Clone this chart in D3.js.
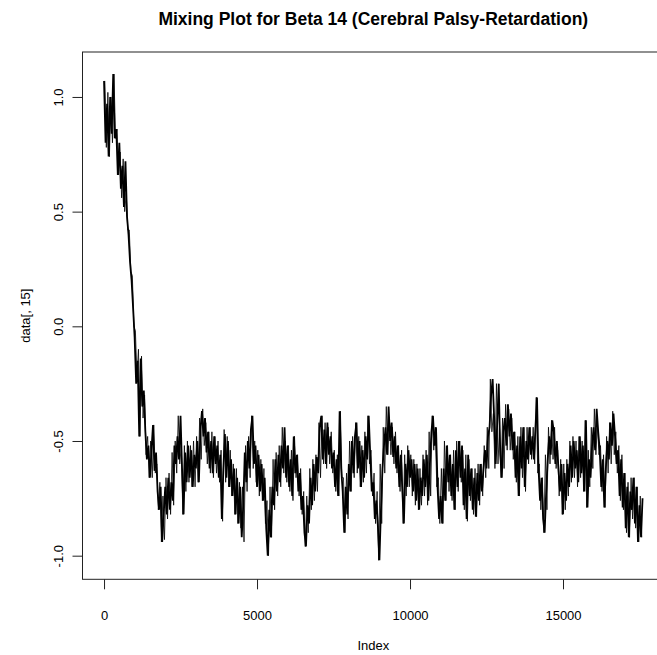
<!DOCTYPE html>
<html><head><meta charset="utf-8">
<script src="https://cdn.jsdelivr.net/npm/d3@7"></script>
<style>
body{margin:0;background:#fff}
svg{display:block}
text{font-family:"Liberation Sans",Arial,sans-serif;fill:#000}
</style>
</head><body>
<svg id="chart" width="657" height="655"></svg>
<script>
const titleText = "Mixing Plot for Beta 14 (Cerebral Palsy-Retardation)";
const xLabelText = "Index";
const yLabelText = "data[, 15]";
const xTickValues = [0, 5000, 10000, 15000];
const xTickLabels = ["0", "5000", "10000", "15000"];
const yTickValues = [-1.0, -0.5, 0.0, 0.5, 1.0];
const yTickLabels = ["-1.0", "-0.5", "0.0", "0.5", "1.0"];
const lastIteration = 17600; // last index of the chain

// core of the trace, one value every 50 iterations (0 .. 17600)
const coreStep = 50;
const traceCore = [
  1.07, 0.80, 0.97, 0.74, 1.00, 0.84, 1.10, 0.82, 0.86, 0.66, 0.80, 0.60, 0.70, 0.52, 0.72, 0.48, 0.40, 0.28, 0.20, 0.08,
  -0.05, -0.25, -0.15, -0.48, -0.14, -0.35, -0.28, -0.46, -0.58, -0.52, -0.66, -0.54, -0.43, -0.63, -0.55, -0.72, -0.80, -0.70, -0.94, -0.82,
  -0.70, -0.82, -0.66, -0.80, -0.68, -0.76, -0.52, -0.60, -0.48, -0.58, -0.39, -0.62, -0.82, -0.55, -0.68, -0.52, -0.66, -0.54, -0.70, -0.56,
  -0.62, -0.50, -0.68, -0.45, -0.37, -0.48, -0.40, -0.55, -0.46, -0.62, -0.50, -0.64, -0.48, -0.60, -0.52, -0.66, -0.56, -0.84, -0.62, -0.47,
  -0.66, -0.50, -0.70, -0.58, -0.74, -0.62, -0.82, -0.66, -0.86, -0.70, -0.92, -0.78, -0.55, -0.68, -0.50, -0.62, -0.45, -0.39, -0.60, -0.52,
  -0.70, -0.56, -0.72, -0.60, -0.76, -0.66, -0.88, -1.00, -0.80, -0.92, -0.70, -0.78, -0.58, -0.72, -0.56, -0.68, -0.52, -0.62, -0.44, -0.66,
  -0.52, -0.70, -0.58, -0.74, -0.48, -0.64, -0.56, -0.72, -0.64, -0.80, -0.74, -0.90, -0.96, -0.78, -0.86, -0.66, -0.78, -0.60, -0.72, -0.57,
  -0.64, -0.44, -0.39, -0.58, -0.45, -0.60, -0.42, -0.56, -0.48, -0.62, -0.55, -0.70, -0.58, -0.74, -0.37, -0.62, -0.72, -0.90, -0.70, -0.82,
  -0.60, -0.72, -0.50, -0.64, -0.48, -0.42, -0.62, -0.50, -0.70, -0.54, -0.66, -0.48, -0.58, -0.39, -0.56, -0.72, -0.68, -0.84, -0.76, -0.87,
  -1.02, -0.80, -0.62, -0.52, -0.44, -0.56, -0.35, -0.50, -0.42, -0.57, -0.48, -0.62, -0.52, -0.70, -0.56, -0.72, -0.86, -0.60, -0.70, -0.54,
  -0.66, -0.58, -0.72, -0.60, -0.76, -0.62, -0.80, -0.66, -0.74, -0.58, -0.70, -0.56, -0.76, -0.60, -0.46, -0.39, -0.52, -0.44, -0.70, -0.84,
  -0.74, -0.86, -0.62, -0.76, -0.52, -0.68, -0.56, -0.74, -0.60, -0.80, -0.54, -0.70, -0.50, -0.66, -0.52, -0.78, -0.62, -0.84, -0.56, -0.74,
  -0.62, -0.80, -0.66, -0.83, -0.64, -0.76, -0.60, -0.72, -0.62, -0.54, -0.62, -0.48, -0.44, -0.30, -0.23, -0.40, -0.60, -0.42, -0.25, -0.56,
  -0.66, -0.46, -0.40, -0.52, -0.34, -0.48, -0.38, -0.54, -0.46, -0.66, -0.52, -0.74, -0.48, -0.62, -0.44, -0.70, -0.50, -0.58, -0.44, -0.56,
  -0.48, -0.58, -0.44, -0.31, -0.62, -0.76, -0.66, -0.84, -0.90, -0.72, -0.58, -0.48, -0.56, -0.41, -0.46, -0.60, -0.50, -0.62, -0.72, -0.60,
  -0.82, -0.64, -0.76, -0.60, -0.70, -0.52, -0.66, -0.50, -0.62, -0.54, -0.68, -0.48, -0.64, -0.52, -0.72, -0.41, -0.79, -0.58, -0.66, -0.52,
  -0.44, -0.54, -0.36, -0.46, -0.54, -0.70, -0.58, -0.79, -0.62, -0.50, -0.58, -0.42, -0.52, -0.38, -0.48, -0.60, -0.54, -0.74, -0.58, -0.79,
  -0.64, -0.88, -0.70, -0.92, -0.72, -0.80, -0.66, -0.86, -0.70, -0.94, -0.78, -0.92, -0.75
];

// local maximum and minimum (spikes), per 100-iteration window
const windowSize = 100;
const traceHigh = [
  1.07, 1.02, 1.00, 1.10, 0.86, 0.76, 0.73, 0.58, 0.42, 0.22,
  -0.02, -0.10, -0.13, -0.30, -0.48, -0.50, -0.43, -0.60, -0.68, -0.74,
  -0.66, -0.64, -0.55, -0.50, -0.39, -0.52, -0.52, -0.50, -0.52, -0.50,
  -0.48, -0.40, -0.36, -0.42, -0.46, -0.46, -0.48, -0.50, -0.54, -0.45,
  -0.48, -0.54, -0.60, -0.62, -0.68, -0.70, -0.52, -0.48, -0.39, -0.50,
  -0.54, -0.58, -0.62, -0.76, -0.70, -0.58, -0.55, -0.52, -0.44, -0.50,
  -0.52, -0.54, -0.48, -0.56, -0.62, -0.72, -0.74, -0.62, -0.58, -0.56,
  -0.42, -0.39, -0.42, -0.44, -0.46, -0.54, -0.56, -0.37, -0.66, -0.64,
  -0.50, -0.48, -0.42, -0.48, -0.52, -0.46, -0.39, -0.54, -0.64, -0.72,
  -0.60, -0.44, -0.35, -0.40, -0.44, -0.46, -0.52, -0.54, -0.56, -0.52,
  -0.56, -0.58, -0.60, -0.62, -0.56, -0.54, -0.46, -0.39, -0.44, -0.66,
  -0.62, -0.50, -0.52, -0.56, -0.54, -0.50, -0.50, -0.54, -0.56, -0.58,
  -0.62, -0.62, -0.60, -0.60, -0.52, -0.44, -0.23, -0.38, -0.25, -0.44,
  -0.40, -0.34, -0.36, -0.40, -0.46, -0.48, -0.44, -0.44, -0.44, -0.44,
  -0.44, -0.31, -0.60, -0.66, -0.56, -0.44, -0.41, -0.44, -0.54, -0.58,
  -0.60, -0.58, -0.50, -0.48, -0.50, -0.48, -0.50, -0.41, -0.54, -0.44,
  -0.36, -0.42, -0.52, -0.56, -0.48, -0.42, -0.37, -0.46, -0.52, -0.56,
  -0.64, -0.68, -0.66, -0.66, -0.70, -0.74
];
const traceLow = [
  0.78, 0.74, 0.80, 0.82, 0.66, 0.56, 0.50, 0.42, 0.24, 0.00,
  -0.22, -0.48, -0.40, -0.56, -0.66, -0.66, -0.64, -0.80, -0.94, -0.93,
  -0.84, -0.82, -0.78, -0.64, -0.60, -0.82, -0.72, -0.68, -0.70, -0.70,
  -0.68, -0.58, -0.52, -0.60, -0.64, -0.66, -0.64, -0.68, -0.85, -0.68,
  -0.70, -0.74, -0.82, -0.86, -0.88, -0.94, -0.72, -0.66, -0.62, -0.68,
  -0.74, -0.76, -0.86, -1.00, -0.92, -0.80, -0.74, -0.70, -0.64, -0.68,
  -0.72, -0.76, -0.66, -0.74, -0.82, -0.96, -0.90, -0.80, -0.76, -0.72,
  -0.66, -0.60, -0.62, -0.60, -0.64, -0.72, -0.74, -0.66, -0.90, -0.84,
  -0.72, -0.66, -0.64, -0.70, -0.68, -0.64, -0.60, -0.74, -0.86, -1.02,
  -0.86, -0.64, -0.56, -0.56, -0.60, -0.64, -0.72, -0.86, -0.74, -0.70,
  -0.74, -0.78, -0.80, -0.78, -0.74, -0.78, -0.74, -0.54, -0.70, -0.86,
  -0.86, -0.76, -0.72, -0.76, -0.80, -0.72, -0.68, -0.80, -0.85, -0.76,
  -0.82, -0.83, -0.78, -0.74, -0.66, -0.62, -0.46, -0.62, -0.60, -0.66,
  -0.62, -0.54, -0.54, -0.58, -0.68, -0.74, -0.66, -0.72, -0.60, -0.58,
  -0.60, -0.64, -0.80, -0.90, -0.80, -0.60, -0.58, -0.62, -0.74, -0.82,
  -0.80, -0.74, -0.68, -0.66, -0.70, -0.66, -0.72, -0.79, -0.70, -0.62,
  -0.56, -0.56, -0.72, -0.79, -0.64, -0.60, -0.56, -0.64, -0.76, -0.80,
  -0.90, -0.92, -0.84, -0.88, -0.94, -0.92
];

const svg = d3.select("#chart");
const box = {left: 82.5, top: 52, right: 664.1, bottom: 579.3};

const xPad = 0.04 * lastIteration;
const x = d3.scaleLinear().domain([-xPad, lastIteration + xPad]).range([box.left, box.right]);
const y = d3.scaleLinear().domain([-1.103, 1.196]).range([box.bottom, box.top]);

// spikes: each window goes from its high to its low reading
const spikePoints = [];
traceHigh.forEach((hi, k) => {
  spikePoints.push([k * windowSize + windowSize * 0.25, hi]);
  spikePoints.push([k * windowSize + windowSize * 0.75, traceLow[k]]);
});
const corePoints = traceCore.map((v, i) => [i * coreStep, v]);

const line = d3.line().x(d => x(d[0])).y(d => y(d[1]));
svg.append("path")
  .datum(spikePoints)
  .attr("d", line)
  .attr("fill", "none")
  .attr("stroke", "#000")
  .attr("stroke-width", 0.8);
svg.append("path")
  .datum(corePoints)
  .attr("d", line)
  .attr("fill", "none")
  .attr("stroke", "#000")
  .attr("stroke-width", 1.8)
  .attr("stroke-linejoin", "miter");

// box
svg.append("rect")
  .attr("x", box.left).attr("y", box.top)
  .attr("width", box.right - box.left).attr("height", box.bottom - box.top)
  .attr("fill", "none").attr("stroke", "#222").attr("stroke-width", 1);

// x axis
const xAxis = d3.axisBottom(x).tickValues(xTickValues).tickSize(10).tickPadding(21)
  .tickFormat((d, i) => xTickLabels[i]);
const gx = svg.append("g").attr("transform", `translate(0,${box.bottom})`).call(xAxis);
gx.select(".domain").remove();
gx.selectAll("line").attr("stroke", "#222");
gx.selectAll("text").attr("font-size", 13).attr("font-family", '"Liberation Sans",Arial,sans-serif').attr("fill", "#000");

// y axis
const yAxis = d3.axisLeft(y).tickValues(yTickValues).tickSize(10)
  .tickFormat((d, i) => yTickLabels[i]);
const gy = svg.append("g").attr("transform", `translate(${box.left},0)`).call(yAxis);
gy.select(".domain").remove();
gy.selectAll("line").attr("stroke", "#222");
gy.selectAll("text")
  .attr("font-size", 13).attr("font-family", '"Liberation Sans",Arial,sans-serif').attr("fill", "#000")
  .attr("transform", "rotate(-90)")
  .attr("x", 0).attr("y", -19.5).attr("dy", 0)
  .attr("text-anchor", "middle");

// labels
const cx = (box.left + box.right) / 2;
svg.append("text").attr("x", cx).attr("y", 25).attr("text-anchor", "middle")
  .attr("font-size", 17.5).attr("font-weight", "bold").text(titleText);
svg.append("text").attr("x", cx).attr("y", 650).attr("text-anchor", "middle")
  .attr("font-size", 13).text(xLabelText);
svg.append("text").attr("transform", `translate(30,${(box.top + box.bottom) / 2}) rotate(-90)`)
  .attr("text-anchor", "middle").attr("font-size", 13).text(yLabelText);
</script>
</body></html>
